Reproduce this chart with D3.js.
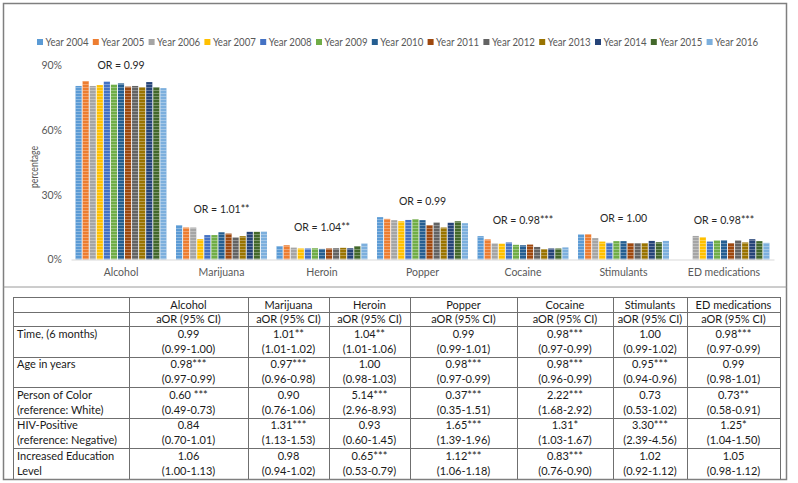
<!DOCTYPE html>
<html>
<head>
<meta charset="utf-8">
<script src="https://cdn.jsdelivr.net/npm/d3@7"></script>
<style>
  html, body { margin: 0; padding: 0; background: #fff; }
  svg { display: block; font-family: Lato, "Liberation Sans", sans-serif; }
</style>
</head>
<body>
<svg id="chart" width="798" height="483"></svg>
<script>
// ---------------- data ----------------
const years = ["Year 2004","Year 2005","Year 2006","Year 2007","Year 2008","Year 2009","Year 2010",
               "Year 2011","Year 2012","Year 2013","Year 2014","Year 2015","Year 2016"];
const yearColors = ["#5B9BD5","#ED7D31","#A5A5A5","#FFC000","#4472C4","#70AD47","#255E91",
                    "#9E480E","#636363","#997300","#264478","#43682B","#7CAFDD"];
const categories = ["Alcohol","Marijuana","Heroin","Popper","Cocaine","Stimulants","ED medications"];

// percentage by year (2004..2016) per category
const alcohol     = [80.3, 82.6, 80.3, 80.7, 82.3, 80.9, 81.5, 80.0, 80.3, 79.7, 82.1, 79.7, 79.3];
const marijuana   = [15.9, 14.8, 14.8,  9.4, 11.3, 11.3, 12.6, 12.0, 10.2, 10.8, 12.8, 12.8, 12.9];
const heroin      = [ 6.2,  6.6,  5.5,  5.1,  5.1,  5.2,  4.9,  5.1,  5.2,  5.4,  5.2,  6.2,  7.4];
const popper      = [19.6, 18.8, 18.2, 17.7, 18.3, 18.7, 18.2, 15.9, 17.1, 14.8, 17.0, 17.7, 16.8];
const cocaine     = [10.8,  9.3,  7.4,  7.3,  7.9,  6.8,  6.6,  6.9,  5.8,  4.8,  5.1,  5.1,  5.6];
const stimulants  = [11.6, 11.7,  9.9,  8.3,  7.7,  8.5,  8.5,  7.6,  7.6,  7.6,  8.6,  8.0,  8.6];
const edMeds      = [null, null, 10.9, 10.3,  8.3,  8.8,  8.9,  7.6,  8.8,  7.9,  9.4,  8.5,  7.7];
const seriesByCategory = [alcohol, marijuana, heroin, popper, cocaine, stimulants, edMeds];

const orLabels = ["OR = 0.99","OR = 1.01**","OR = 1.04**","OR = 0.99","OR = 0.98***","OR = 1.00","OR = 0.98***"];
const yTicks = [0, 30, 60, 90];

// table
const tableHeader2 = "aOR (95% CI)";
const rowLabels = [["Time, (6 months)"],["Age in years"],["Person of Color","(reference: White)"],
                   ["HIV-Positive","(reference: Negative)"],["Increased Education","Level"]];
const aorTime   = ["0.99","1.01**","1.04**","0.99","0.98***","1.00","0.98***"];
const ciTime    = ["(0.99-1.00)","(1.01-1.02)","(1.01-1.06)","(0.99-1.01)","(0.97-0.99)","(0.99-1.02)","(0.97-0.99)"];
const aorAge    = ["0.98***","0.97***","1.00","0.98***","0.98***","0.95***","0.99"];
const ciAge     = ["(0.97-0.99)","(0.96-0.98)","(0.98-1.03)","(0.97-0.99)","(0.96-0.99)","(0.94-0.96)","(0.98-1.01)"];
const aorColor  = ["0.60 ***","0.90","5.14***","0.37***","2.22***","0.73","0.73**"];
const ciColor   = ["(0.49-0.73)","(0.76-1.06)","(2.96-8.93)","(0.35-1.51)","(1.68-2.92)","(0.53-1.02)","(0.58-0.91)"];
const aorHIV    = ["0.84","1.31***","0.93","1.65***","1.31*","3.30***","1.25*"];
const ciHIV     = ["(0.70-1.01)","(1.13-1.53)","(0.60-1.45)","(1.39-1.96)","(1.03-1.67)","(2.39-4.56)","(1.04-1.50)"];
const aorEdu    = ["1.06","0.98","0.65***","1.12***","0.83***","1.02","1.05"];
const ciEdu     = ["(1.00-1.13)","(0.94-1.02)","(0.53-0.79)","(1.06-1.18)","(0.76-0.90)","(0.92-1.12)","(0.98-1.12)"];
const tableRows = [[aorTime,ciTime],[aorAge,ciAge],[aorColor,ciColor],[aorHIV,ciHIV],[aorEdu,ciEdu]];

// ---------------- drawing ----------------
const svg = d3.select("#chart");
const defs = svg.append("defs");
const pat = defs.append("pattern").attr("id","stripes").attr("patternUnits","userSpaceOnUse")
  .attr("width",6).attr("height",3);
pat.append("rect").attr("width",6).attr("height",1).attr("fill","#fff").attr("opacity",0.3);

const x0 = d3.scaleBand().domain(categories).range([71, 774]).paddingInner(0.095).paddingOuter(0.045);
const x1 = d3.scaleBand().domain(years).range([0, x0.bandwidth()]).paddingInner(0.13);
const y = d3.scaleLinear().domain([0, 90]).range([259.5, 65]);
const color = d3.scaleOrdinal().domain(years).range(yearColors);

// legend
const legend = svg.append("g").attr("transform","translate(37,42)");
const li = legend.selectAll("g").data(years).join("g")
  .attr("transform",(d,i)=>`translate(${i*55.8},0)`);
li.append("rect").attr("x",0).attr("y",-3).attr("width",6).attr("height",6).attr("fill",d=>color(d));
li.append("text").attr("x",8.5).attr("y",0).attr("dy","0.35em")
  .attr("font-size",10.5).attr("fill","#595959")
  .attr("textLength",43).attr("lengthAdjust","spacingAndGlyphs").text(d=>d);

// y axis
const yAxis = svg.append("g").attr("transform","translate(66,0)")
  .call(d3.axisLeft(y).tickValues(yTicks).tickFormat(d=>d+"%").tickSize(0).tickPadding(4));
yAxis.select(".domain").remove();
yAxis.selectAll("text").attr("font-size",10.5).attr("fill","#595959").attr("font-family","Lato, sans-serif");

svg.append("text").attr("transform","translate(34,167) rotate(-90)")
  .attr("text-anchor","middle").attr("dy","0.35em").attr("font-size",10.5).attr("fill","#595959")
  .attr("textLength",42).attr("lengthAdjust","spacingAndGlyphs")
  .text("percentage");

// bars
const groups = svg.append("g").selectAll("g").data(categories).join("g")
  .attr("transform",d=>`translate(${x0(d)},0)`);
groups.each(function(cat, ci){
  const vals = years.map((yr,i)=>({yr, v: seriesByCategory[ci][i]})).filter(d=>d.v!=null);
  const g = d3.select(this);
  g.selectAll("rect.bar").data(vals).join("rect").attr("class","bar")
    .attr("x",d=>x1(d.yr)).attr("width",x1.bandwidth())
    .attr("y",d=>y(d.v)).attr("height",d=>y(0)-y(d.v)).attr("fill",d=>color(d.yr));
  g.selectAll("rect.str").data(vals).join("rect").attr("class","str")
    .attr("x",d=>x1(d.yr)).attr("width",x1.bandwidth())
    .attr("y",d=>y(d.v)).attr("height",d=>y(0)-y(d.v)).attr("fill","url(#stripes)");
  const mx = d3.max(vals, d=>d.v);
  g.append("text").attr("x",x0.bandwidth()/2).attr("y",y(mx)-16).attr("dy","0.35em")
    .attr("text-anchor","middle").attr("font-size",10.5).attr("fill","#262626").text(orLabels[ci]);
});

// x axis
const xAxis = svg.append("g").attr("transform",`translate(0,${y(0)})`)
  .call(d3.axisBottom(x0).tickSize(0).tickPadding(9));
xAxis.select(".domain").attr("stroke","#d9d9d9").attr("stroke-width",1.2);
xAxis.selectAll("text").attr("font-size",10.5).attr("fill","#595959").attr("font-family","Lato, sans-serif");

// frame
svg.append("rect").attr("x",3.5).attr("y",3.5).attr("width",783).attr("height",476)
  .attr("fill","none").attr("stroke","#7f7f7f").attr("stroke-width",1.5);
svg.append("line").attr("x1",3.5).attr("x2",786.5).attr("y1",287).attr("y2",287)
  .attr("stroke","#9a9a9a").attr("stroke-width",1);

// table
const colEdges = [13, 129, 248, 329, 410, 517, 613, 687, 780];
const hdrTop = 297, hdr1 = 15, hdr2 = 14, rowH = 30.5;
const rowEdges = [hdrTop, hdrTop+hdr1, hdrTop+hdr1+hdr2];
for (let i=1;i<=tableRows.length;i++) rowEdges.push(hdrTop+hdr1+hdr2+i*rowH);
const tbl = svg.append("g");
const tStroke = "#6f6f6f";
tbl.selectAll("line.h").data(rowEdges.slice(0, -1)).join("line").attr("class","h")
  .attr("x1",colEdges[0]).attr("x2",colEdges[colEdges.length-1])
  .attr("y1",d=>Math.round(d)+0.5).attr("y2",d=>Math.round(d)+0.5).attr("stroke",tStroke).attr("stroke-width",1);
tbl.selectAll("line.v").data(colEdges).join("line").attr("class","v")
  .attr("x1",d=>d+0.5).attr("x2",d=>d+0.5)
  .attr("y1",rowEdges[0]).attr("y2",479)
  .attr("stroke",tStroke).attr("stroke-width",1);

const colMid = i => (colEdges[i+1]+colEdges[i+2])/2;
const tfs = 11, tcol = "#1a1a1a";
categories.forEach((c,i)=>{
  tbl.append("text").attr("x",colMid(i)).attr("y",rowEdges[0]+hdr1/2+0.5).attr("dy","0.35em")
    .attr("text-anchor","middle").attr("font-size",tfs).attr("fill",tcol).text(c);
  tbl.append("text").attr("x",colMid(i)).attr("y",rowEdges[1]+hdr2/2+0.5).attr("dy","0.35em")
    .attr("text-anchor","middle").attr("font-size",tfs).attr("fill",tcol).text(tableHeader2);
});
tableRows.forEach((row,r)=>{
  const top = rowEdges[2+r];
  rowLabels[r].forEach((lab,k)=>{
    tbl.append("text").attr("x",colEdges[0]+4).attr("y",top+8+k*15).attr("dy","0.35em")
      .attr("font-size",tfs).attr("fill",tcol).text(lab);
  });
  row[0].forEach((v,i)=>{
    tbl.append("text").attr("x",colMid(i)).attr("y",top+8).attr("dy","0.35em")
      .attr("text-anchor","middle").attr("font-size",tfs).attr("fill",tcol).text(v);
    tbl.append("text").attr("x",colMid(i)).attr("y",top+23).attr("dy","0.35em")
      .attr("text-anchor","middle").attr("font-size",tfs).attr("fill",tcol).text(row[1][i]);
  });
});
</script>
</body>
</html>
